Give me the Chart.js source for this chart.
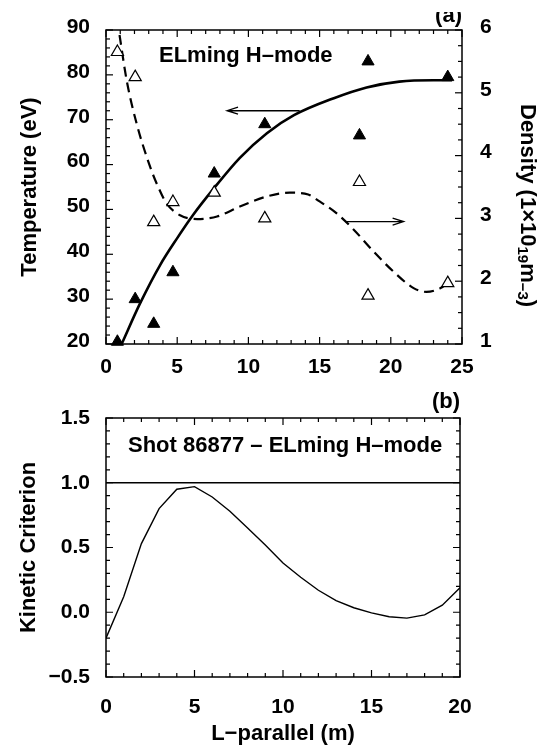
<!DOCTYPE html>
<html>
<head>
<meta charset="utf-8">
<script src="https://cdn.jsdelivr.net/npm/chart.js@4.4.1/dist/chart.umd.min.js"></script>
<style>
  body { margin: 0; background: #fff; }
  #wrap { position: relative; width: 547px; height: 749px; }
  canvas { position: absolute; left: 0; }
  #chart-a { top: 0; }
  #chart-b { top: 380px; }
</style>
</head>
<body>
<div id="wrap">
  <canvas id="chart-a" width="547" height="380"></canvas>
  <canvas id="chart-b" width="547" height="369"></canvas>
</div>
<script>
// ---- panel (a): measured points along L-parallel (m)
const measX = [0.8, 2.05, 3.35, 4.7, 7.6, 11.15, 17.8, 18.4, 24.0];
const tempMeas = [20.5, 30.0, 24.5, 36.0, 58.0, 69.0, 66.5, 83.0, 79.5];
const densMeas = [5.65, 5.25, 2.94, 3.26, 3.41, 3.0, 3.58, 1.77, 1.97];

// fitted profiles
const tempFitX = [1.1, 2.4, 3.8, 5.0, 6.1, 7.5, 9.4, 11.3, 13.2, 16.0, 18.3, 20.6, 23.0, 24.3];
const tempFitY = [20.0, 29.1, 37.6, 43.6, 48.7, 54.4, 61.5, 67.0, 71.0, 74.8, 77.2, 78.5, 78.8, 78.8];
const densFitX = [0.95, 1.45, 2.15, 3.1, 3.55, 4.25, 5.2, 6.4, 7.8, 9.4, 11.3, 12.9, 14.2, 15.0, 16.2, 17.4, 18.8, 20.2, 21.6, 22.5, 23.5, 24.0];
const densFitY = [5.92, 5.2, 4.51, 3.82, 3.56, 3.24, 3.05, 2.99, 3.03, 3.19, 3.35, 3.41, 3.38, 3.27, 3.08, 2.82, 2.47, 2.15, 1.89, 1.83, 1.89, 1.97];

// arrows telling which axis each curve uses
const tempArrowX = [13.6, 8.5];
const tempArrowY = [72, 72];
const densArrowX = [16.8, 20.9];
const densArrowY = [2.95, 2.95];

// tick labels
const xTicksA = [0, 5, 10, 15, 20, 25];
const tempTicks = [20, 30, 40, 50, 60, 70, 80, 90];
const densTicks = [1, 2, 3, 4, 5, 6];

// ---- panel (b): kinetic criterion
const kinX = [0, 1, 2, 3, 4, 5, 6, 7, 8, 9, 10, 11, 12, 13, 14, 15, 16, 17, 18, 19, 20];
const kinY = [-0.20, 0.12, 0.53, 0.80, 0.95, 0.97, 0.89, 0.78, 0.65, 0.52, 0.38, 0.27, 0.17, 0.09, 0.035, -0.005, -0.035, -0.045, -0.02, 0.055, 0.19];
const critX = [0, 20];
const critY = [1.0, 1.0];
const xTicksB = [0, 5, 10, 15, 20];
const kinTicks = [-0.5, 0, 0.5, 1.0, 1.5];

const FONT = "'Liberation Sans', Arial, Helvetica, sans-serif";
const pts = (xs, ys) => xs.map((x, i) => ({ x: x, y: ys[i] }));
const setTicks = (vals) => (s) => { s.ticks = vals.map((v) => ({ value: v })); };

// frame box plus inward ticks on every side
const frameTicks = {
    id: "frameTicks",
    afterDatasetsDraw(chart, args, opts) {
        const { ctx, chartArea: a } = chart;
        ctx.save();
        ctx.strokeStyle = "#000";
        ctx.lineWidth = 1.5;
        ctx.strokeRect(a.left, a.top, a.right - a.left, a.bottom - a.top);
        ctx.lineWidth = 1.2;
        opts.axes.forEach((ax) => {
            const s = chart.scales[ax.id];
            const n = Math.round((s.max - s.min) / ax.minor);
            for (let i = 0; i <= n; i++) {
                const v = s.min + i * ax.minor;
                const r = v / ax.major;
                const len = Math.abs(r - Math.round(r)) < 1e-6 ? 7 : 4;
                const p = s.getPixelForValue(v);
                ctx.beginPath();
                ax.sides.forEach((side) => {
                    if (side === "bottom") { ctx.moveTo(p, a.bottom); ctx.lineTo(p, a.bottom - len); }
                    if (side === "top") { ctx.moveTo(p, a.top); ctx.lineTo(p, a.top + len); }
                    if (side === "left") { ctx.moveTo(a.left, p); ctx.lineTo(a.left + len, p); }
                    if (side === "right") { ctx.moveTo(a.right, p); ctx.lineTo(a.right - len, p); }
                });
                ctx.stroke();
            }
        });
        ctx.restore();
    }
};

function drawArrow(ctx, x1, y1, x2, y2) {
    const dir = x2 > x1 ? 1 : -1;
    ctx.beginPath();
    ctx.moveTo(x1, y1);
    ctx.lineTo(x2, y2);
    ctx.moveTo(x2 - dir * 11, y2 - 3.5);
    ctx.lineTo(x2, y2);
    ctx.lineTo(x2 - dir * 11, y2 + 3.5);
    ctx.stroke();
}

// labels and arrows for panel (a)
const notesA = {
    id: "notesA",
    afterDraw(chart) {
        const { ctx, scales } = chart;
        ctx.save();
        ctx.fillStyle = "#000";
        ctx.strokeStyle = "#000";
        ctx.font = "bold 22px " + FONT;
        ctx.textAlign = "left";
        ctx.textBaseline = "alphabetic";
        ctx.fillText("ELming H\u2013mode", 159, 62);

        // (a) is cut at the top in the original
        ctx.save();
        ctx.beginPath();
        ctx.rect(400, 12, 100, 30);
        ctx.clip();
        ctx.textAlign = "right";
        ctx.fillText("(a)", 462, 22);
        ctx.restore();

        ctx.lineWidth = 1.3;
        drawArrow(ctx,
            scales.x.getPixelForValue(tempArrowX[0]), scales.yT.getPixelForValue(tempArrowY[0]),
            scales.x.getPixelForValue(tempArrowX[1]), scales.yT.getPixelForValue(tempArrowY[1]));
        drawArrow(ctx,
            scales.x.getPixelForValue(densArrowX[0]), scales.yD.getPixelForValue(densArrowY[0]),
            scales.x.getPixelForValue(densArrowX[1]), scales.yD.getPixelForValue(densArrowY[1]));

        // right axis title with exponents
        ctx.translate(521, 104);
        ctx.rotate(Math.PI / 2);
        let x = 0;
        const part = (txt, size, dy) => {
            ctx.font = "bold " + size + "px " + FONT;
            ctx.fillText(txt, x, dy);
            x += ctx.measureText(txt).width;
        };
        ctx.textAlign = "left";
        part("Density (1\u00d710", 22, 0);
        part("19", 15, 3);
        part("m", 22, 0);
        part("\u22123", 15, 3);
        part(")", 22, 0);
        ctx.restore();
    }
};

const notesB = {
    id: "notesB",
    afterDraw(chart) {
        const { ctx } = chart;
        ctx.save();
        ctx.fillStyle = "#000";
        ctx.font = "bold 22px " + FONT;
        ctx.textAlign = "left";
        ctx.fillText("Shot 86877 \u2013 ELming H\u2013mode", 128, 72);
        ctx.textAlign = "right";
        ctx.fillText("(b)", 460, 28);
        ctx.restore();
    }
};

const tickFont = { family: FONT, size: 21, weight: "bold", lineHeight: 1 };
const titleFont = { family: FONT, size: 22, weight: "bold", lineHeight: 1 };
const noGrid = { display: false };
const noBorder = { display: false };

new Chart(document.getElementById("chart-a"), {
    type: "line",
    data: {
        datasets: [
            {
                label: "Te measured",
                data: pts(measX, tempMeas),
                yAxisID: "yT",
                showLine: false,
                pointStyle: "triangle",
                pointRadius: 7,
                backgroundColor: "#000",
                borderColor: "#000",
                borderWidth: 1,
                clip: false,
            },
            {
                label: "ne measured",
                data: pts(measX, densMeas),
                yAxisID: "yD",
                showLine: false,
                pointStyle: "triangle",
                pointRadius: 7,
                backgroundColor: "#fff",
                borderColor: "#000",
                borderWidth: 1.2,
                clip: false,
            },
            {
                label: "Te fit",
                data: pts(tempFitX, tempFitY),
                yAxisID: "yT",
                borderColor: "#000",
                borderWidth: 2.6,
                pointRadius: 0,
                cubicInterpolationMode: "monotone",
            },
            {
                label: "ne fit",
                data: pts(densFitX, densFitY),
                yAxisID: "yD",
                borderColor: "#000",
                borderWidth: 2.2,
                borderDash: [10, 6],
                pointRadius: 0,
                cubicInterpolationMode: "monotone",
            },
        ],
    },
    options: {
        responsive: false,
        animation: false,
        layout: { padding: { top: 30, left: 0, right: 0, bottom: 0 } },
        plugins: { legend: { display: false }, tooltip: { enabled: false }, frameTicks: {
            axes: [
                { id: "x", minor: 1, major: 5, sides: ["bottom", "top"] },
                { id: "yT", minor: 2, major: 10, sides: ["left"] },
                { id: "yD", minor: 0.25, major: 1, sides: ["right"] },
            ],
        } },
        scales: {
            x: {
                type: "linear", position: "bottom", min: 0, max: 25,
                grid: noGrid, border: noBorder,
                afterBuildTicks: setTicks(xTicksA),
                afterFit: (s) => { s.height = 36; },
                ticks: { font: tickFont, color: "#000", padding: 5, autoSkip: false, maxRotation: 0 },
            },
            yT: {
                type: "linear", position: "left", min: 20, max: 90,
                grid: noGrid, border: noBorder,
                afterBuildTicks: setTicks(tempTicks),
                afterFit: (s) => { s.width = 106; },
                ticks: { font: tickFont, color: "#000", padding: 8, labelOffset: -3 },
                title: { display: true, text: "Temperature (eV)", font: titleFont, color: "#000", padding: { top: 19, bottom: 0 } },
            },
            yD: {
                type: "linear", position: "right", min: 1, max: 6,
                grid: noGrid, border: noBorder,
                afterBuildTicks: setTicks(densTicks),
                afterFit: (s) => { s.width = 85; },
                ticks: { font: tickFont, color: "#000", padding: 10, labelOffset: -3 },
            },
        },
    },
    plugins: [frameTicks, notesA],
});

new Chart(document.getElementById("chart-b"), {
    type: "line",
    data: {
        datasets: [
            {
                label: "Kinetic criterion",
                data: pts(kinX, kinY),
                borderColor: "#000",
                borderWidth: 1.4,
                pointRadius: 0,
                tension: 0,
            },
            {
                label: "Threshold",
                data: pts(critX, critY),
                borderColor: "#000",
                borderWidth: 1.3,
                pointRadius: 0,
            },
        ],
    },
    options: {
        responsive: false,
        animation: false,
        layout: { padding: { top: 38, left: 0, right: 87, bottom: 0 } },
        plugins: { legend: { display: false }, tooltip: { enabled: false }, frameTicks: {
            axes: [
                { id: "x", minor: 1, major: 5, sides: ["bottom", "top"] },
                { id: "y", minor: 0.1, major: 0.5, sides: ["left", "right"] },
            ],
        } },
        scales: {
            x: {
                type: "linear", position: "bottom", min: 0, max: 20,
                grid: noGrid, border: noBorder,
                afterBuildTicks: setTicks(xTicksB),
                afterFit: (s) => { s.height = 72; },
                ticks: { font: tickFont, color: "#000", padding: 12, autoSkip: false, maxRotation: 0 },
                title: { display: true, text: "L\u2212parallel (m)", font: titleFont, color: "#000", padding: { top: 0, bottom: 4 } },
            },
            y: {
                type: "linear", position: "left", min: -0.5, max: 1.5,
                grid: noGrid, border: noBorder,
                afterBuildTicks: setTicks(kinTicks),
                afterFit: (s) => { s.width = 106; },
                ticks: {
                    font: tickFont, color: "#000", padding: 8,
                    callback: (v) => (v < 0 ? "\u2212" : "") + Math.abs(v).toFixed(1),
                },
                title: { display: true, text: "Kinetic Criterion", font: titleFont, color: "#000", padding: { top: 18, bottom: 0 } },
            },
        },
    },
    plugins: [frameTicks, notesB],
});
</script>
</body>
</html>
